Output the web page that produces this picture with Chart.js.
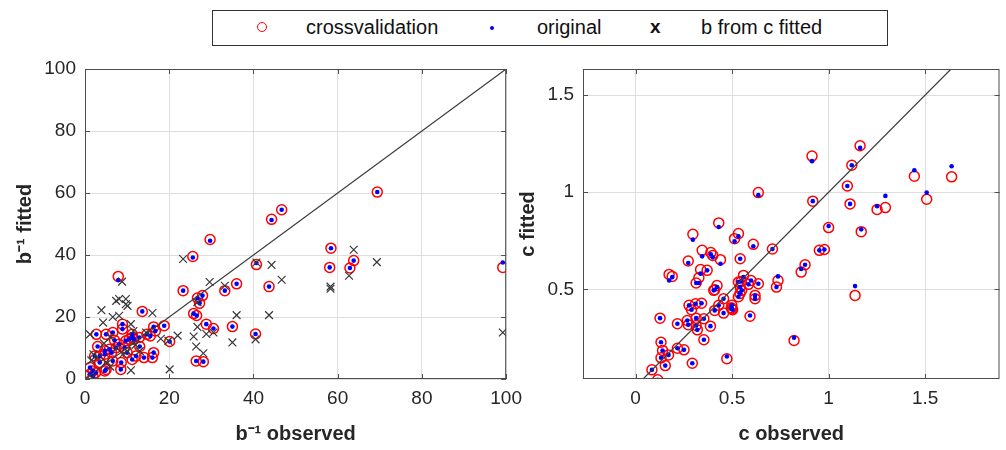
<!DOCTYPE html>
<html>
<head>
<meta charset="utf-8">
<script src="https://cdn.jsdelivr.net/npm/chart.js@4.4.1/dist/chart.umd.min.js"></script>
<style>
  body { margin: 0; background: #fff; font-family: "Liberation Sans", Arial, sans-serif; }
  #wrap { position: relative; width: 1006px; height: 450px; overflow: hidden; }
  #left_box { position: absolute; left: 0; top: 0; }
  #right_box { position: absolute; left: 500px; top: 0; }
  #legend { position: absolute; left: 212px; top: 10px; width: 674px; height: 34px;
            border: 1px solid #333; background: #fff; font-size: 20px; color: #111; }
  #legend span { position: absolute; top: 5px; }
  .mk_circle { width: 8px; height: 8px; border: 1.6px solid #ff0000; border-radius: 50%; }
  .mk_dot { width: 4px; height: 4px; background: #0000ff; border-radius: 50%; }
</style>
</head>
<body>
<div id="wrap">
  <canvas id="left_box" width="530" height="450"></canvas>
  <canvas id="right_box" width="506" height="450"></canvas>
  <div id="legend">
    <span class="mk_circle" style="left:44px; top:11px;"></span>
    <span style="left:93px;">crossvalidation</span>
    <span class="mk_dot" style="left:277px; top:15px;"></span>
    <span style="left:324px;">original</span>
    <span style="left:437px; top:5px; font-weight:bold; font-size:19px;">x</span>
    <span style="left:488px;">b from c fitted</span>
  </div>
</div>
<script>
// left panel: b^-1 observed vs fitted
const bObs  = [69.4, 46.7, 44.3, 29.7, 25.6, 40.7, 58.4, 63.8, 62.9, 58.1, 43.7, 36.0, 33.2, 23.3, 27.9,
               26.7, 27.2, 25.8, 26.5, 28.8, 30.5, 35.0, 40.5, 26.4, 28.1, 99.2, 7.9, 13.6, 16.3, 18.8,
               16.7, 8.9, 8.9, 2.7, 5.0, 6.6, 11.2, 11.6, 14.7, 15.5, 20.1, 16.3, 16.0, 14.0, 11.2,
               12.1, 8.5, 8.6, 6.6, 5.0, 4.7, 1.9, 1.2, 3.5, 2.3, 3.5, 4.7, 6.3, 4.7, 5.8,
               7.4, 8.1, 9.7, 10.5, 11.2, 12.9, 9.4, 1.2, 1.9, 2.5, 10.0, 13.0, 7.0, 3.0];
const bCv   = [60.3, 54.6, 51.5, 45.0, 39.5, 36.9, 42.2, 38.2, 35.8, 36.0, 29.8, 30.7, 28.5, 28.5, 26.9,
               26.1, 24.4, 21.1, 20.5, 17.7, 16.3, 16.9, 14.5, 5.8, 5.6, 36.0, 33.1, 21.8, 16.8, 17.2,
               15.5, 17.7, 16.1, 14.4, 14.4, 15.0, 14.4, 12.8, 14.4, 13.9, 12.1, 8.5, 6.9, 6.9, 6.3,
               7.4, 3.1, 5.3, 5.8, 3.1, 2.6, 2.6, 3.7, 5.3, 7.4, 7.4, 8.0, 8.5, 9.1, 9.6,
               10.1, 11.2, 12.3, 12.8, 13.4, 13.4, 10.1, 1.5, 1.0, 2.0, 8.5, 10.5, 12.5, 10.5];
const bOrig = [60.3, 54.6, 51.3, 44.6, 39.2, 37.4, 42.2, 38.2, 35.8, 36.0, 29.8, 30.7, 28.5, 28.5, 26.9,
               26.1, 24.4, 21.1, 20.5, 17.7, 16.3, 16.9, 14.5, 5.8, 5.6, 37.6, 31.9, 21.8, 16.8, 17.2,
               15.5, 17.7, 16.1, 14.4, 14.4, 15.0, 14.4, 12.8, 14.4, 13.9, 12.1, 8.5, 6.9, 6.9, 6.3,
               7.4, 3.1, 5.3, 5.8, 3.1, 2.6, 2.6, 3.7, 5.3, 7.4, 7.4, 8.0, 8.5, 9.1, 9.6,
               10.1, 11.2, 12.3, 12.8, 13.4, 13.4, 10.1, 1.5, 1.0, 2.0, 8.5, 10.5, 12.5, 10.5];
// b from c fitted
const bxObs = [23.3, 40.7, 44.3, 63.8, 62.7, 69.3, 58.3, 58.3, 46.7, 33.2, 29.6, 36.0, 43.7, 26.7, 28.8,
               25.8, 30.5, 35.0, 40.5, 26.4, 28.1, 99.2, 8.8, 8.1, 9.7, 16.0, 3.9, 7.4, 9.7, 10.1,
               6.6, 8.1, 10.9, 1.2, 4.3, 19.8, 10.9, 20.1, 1.6, 26.7, 3.0, 5.0, 6.0, 4.5, 7.5,
               9.0, 10.0, 12.0, 2.0, 1.5, 6.0, 13.0, 14.5, 11.5, 18.0, 22.0];
const bxFit = [38.7, 37.6, 36.8, 41.7, 33.3, 37.7, 29.8, 29.1, 32.0, 30.1, 31.3, 20.6, 20.6, 16.8, 14.5,
               13.7, 15.0, 11.8, 12.8, 10.5, 8.3, 15.0, 31.4, 25.8, 25.8, 21.3, 22.2, 25.2, 24.1, 23.6,
               20.0, 20.4, 17.7, 14.4, 18.2, 12.3, 2.8, 3.1, 0.4, 24.8, 7.0, 5.5, 4.0, 11.5, 10.0,
               8.0, 9.0, 11.0, 8.0, 6.0, 13.5, 9.0, 15.0, 15.5, 13.0, 14.0];
const bTicks = [0, 20, 40, 60, 80, 100];
const bLimits = [0, 100];

// right panel: c observed vs fitted
const cObs  = [0.636, 0.431, 0.297, 0.533, 0.513, 0.610, 0.709, 0.345, 0.390, 0.400, 0.542, 0.440, 0.273, 0.174, 0.190,
               0.337, 0.328, 0.371, 0.422, 0.559, 0.598, 0.636, 0.738, 0.730, 0.533, 0.542, 0.550, 1.163, 0.914, 1.120,
               1.097, 1.444, 1.637, 1.508, 1.294, 1.251, 0.918, 1.111, 1.000, 1.169, 0.952, 0.978, 0.878, 0.858, 1.137,
               0.821, 0.593, 0.619, 0.619, 0.456, 0.499, 0.499, 0.456, 0.431, 0.473, 0.314, 0.410, 0.585, 0.277, 0.311,
               0.342, 0.290, 0.127, 0.217, 0.268, 0.273, 0.314, 0.354, 0.388, 0.314, 0.320, 0.354, 0.410, 0.496, 0.503,
               0.132, 0.140, 0.171, 0.132, 0.217, 0.251, 0.154, 0.294, 0.085, 0.115, 0.541, 0.405, 0.533, 0.547];
const cCv   = [0.998, 0.842, 0.784, 0.787, 0.761, 0.732, 0.708, 0.701, 0.690, 0.675, 0.658, 0.653, 0.646, 0.577, 0.567,
               0.602, 0.560, 0.598, 0.520, 0.572, 0.546, 0.529, 0.546, 0.512, 0.538, 0.512, 0.495, 1.239, 1.186, 1.139,
               1.032, 1.082, 1.079, 0.964, 0.921, 0.911, 0.954, 0.940, 0.818, 0.797, 0.701, 0.705, 0.627, 0.589, 0.469,
               0.237, 0.362, 0.469, 0.452, 0.452, 0.418, 0.400, 0.378, 0.418, 0.143, 0.533, 0.498, 0.526, 0.418, 0.426,
               0.429, 0.395, 0.352, 0.323, 0.340, 0.318, 0.352, 0.349, 0.311, 0.314, 0.292, 0.241, 0.392, 0.405, 0.395,
               0.228, 0.186, 0.163, 0.148, 0.197, 0.189, 0.108, 0.120, 0.086, 0.035, 0.479, 0.495, 0.462, 0.541];
const cOrig = [0.985, 0.821, 0.756, 0.773, 0.747, 0.722, 0.708, 0.670, 0.680, 0.665, 0.658, 0.632, 0.636, 0.546, 0.563,
               0.581, 0.533, 0.598, 0.512, 0.563, 0.546, 0.529, 0.567, 0.512, 0.538, 0.512, 0.495, 1.228, 1.160, 1.139,
               1.032, 1.113, 1.134, 0.998, 0.981, 0.928, 0.954, 0.940, 0.826, 0.809, 0.701, 0.705, 0.627, 0.605, 0.517,
               0.251, 0.366, 0.469, 0.452, 0.452, 0.418, 0.400, 0.378, 0.418, 0.155, 0.533, 0.498, 0.526, 0.418, 0.426,
               0.429, 0.395, 0.352, 0.323, 0.340, 0.318, 0.352, 0.349, 0.311, 0.314, 0.292, 0.241, 0.392, 0.405, 0.395,
               0.228, 0.186, 0.163, 0.148, 0.197, 0.189, 0.108, 0.120, 0.086, 0.035, 0.479, 0.495, 0.462, 0.541];
const cTicksX = [0, 0.5, 1, 1.5];
const cTicksY = [0.5, 1, 1.5];
const cLimitsX = [-0.272, 1.885];
const cLimitsY = [0.039, 1.634];

const txtColor = "#262626";
const tickFont = { family: "Liberation Sans", size: 19 };
const titleFont = { family: "Liberation Sans", size: 20, weight: "bold" };

function pairs(xs, ys) {
  return ys.map((v, i) => ({ x: xs[i], y: v }));
}

// box around the axes with small inward ticks, like matlab "box on"
const boxFrame = {
  id: "boxFrame",
  afterDatasetsDraw(chart) {
    const ctx = chart.ctx;
    const a = chart.chartArea;
    const sx = chart.scales.x;
    const sy = chart.scales.y;
    ctx.save();
    ctx.strokeStyle = "#4d4d4d";
    ctx.lineWidth = 1;
    ctx.strokeRect(a.left + 0.5, a.top + 0.5, a.right - a.left - 1, a.bottom - a.top - 1);
    ctx.beginPath();
    sx.ticks.forEach(t => {
      const p = Math.round(sx.getPixelForValue(t.value)) + 0.5;
      ctx.moveTo(p, a.bottom); ctx.lineTo(p, a.bottom - 5);
      ctx.moveTo(p, a.top); ctx.lineTo(p, a.top + 5);
    });
    sy.ticks.forEach(t => {
      const p = Math.round(sy.getPixelForValue(t.value)) + 0.5;
      ctx.moveTo(a.left, p); ctx.lineTo(a.left + 5, p);
      ctx.moveTo(a.right, p); ctx.lineTo(a.right - 5, p);
    });
    ctx.stroke();
    ctx.restore();
  }
};

function makeAxis(limits, ticks, title, horizontal, size, titlePad) {
  return {
    type: "linear",
    min: limits[0],
    max: limits[1],
    afterBuildTicks: s => { s.ticks = ticks.map(v => ({ value: v })); },
    afterFit: s => { if (horizontal) s.height = size; else s.width = size; },
    grid: { color: "#dedede", drawTicks: false },
    border: { display: false },
    ticks: { color: txtColor, font: tickFont, padding: horizontal ? 8 : 9, callback: v => String(v) },
    title: { display: true, text: title, color: txtColor, font: titleFont, padding: titlePad }
  };
}

function makeDatasets(obs, cv, orig, line, extraX, extraY) {
  const sets = [
    { data: pairs(obs, cv), pointStyle: "circle", pointRadius: 5, borderColor: "#ff0000",
      backgroundColor: "rgba(0,0,0,0)", borderWidth: 1.5, order: 4 },
    { data: pairs(obs, orig), pointStyle: "circle", pointRadius: 2.3, borderColor: "#0000ff",
      backgroundColor: "#0000ff", borderWidth: 0, order: 3 },
    { type: "line", data: pairs(line, line), showLine: true, borderColor: "#3c3c3c", borderWidth: 1.2,
      pointRadius: 0, fill: false, order: 1 }
  ];
  if (extraX) {
    sets.push({ data: pairs(extraX, extraY), pointStyle: "crossRot", pointRadius: 5.5,
      borderColor: "#383838", borderWidth: 1.2, order: 2 });
  }
  return sets;
}

const commonOpts = {
  responsive: false,
  animation: false,
  events: [],
  plugins: { legend: { display: false }, tooltip: { enabled: false } }
};

new Chart("left_box", {
  type: "scatter",
  data: { datasets: makeDatasets(bObs, bCv, bOrig, bLimits, bxObs, bxFit) },
  options: Object.assign({}, commonOpts, {
    layout: { padding: { top: 69, right: 15, left: 0, bottom: 0 } },
    scales: {
      x: makeAxis(bLimits, bTicks, "b\u207B\u00B9 observed", true, 71, { top: 0, bottom: 4 }),
      y: makeAxis(bLimits, bTicks, "b\u207B\u00B9 fitted", false, 85, { top: 13, bottom: 0 })
    }
  }),
  plugins: [boxFrame]
});

new Chart("right_box", {
  type: "scatter",
  data: { datasets: makeDatasets(cObs, cCv, cOrig, cLimitsY) },
  options: Object.assign({}, commonOpts, {
    layout: { padding: { top: 69, right: 2, left: 0, bottom: 0 } },
    scales: {
      x: makeAxis(cLimitsX, cTicksX, "c observed", true, 71, { top: 0, bottom: 4 }),
      y: makeAxis(cLimitsY, cTicksY, "c fitted", false, 83, { top: 16, bottom: 0 })
    }
  }),
  plugins: [boxFrame]
});
</script>
</body>
</html>
